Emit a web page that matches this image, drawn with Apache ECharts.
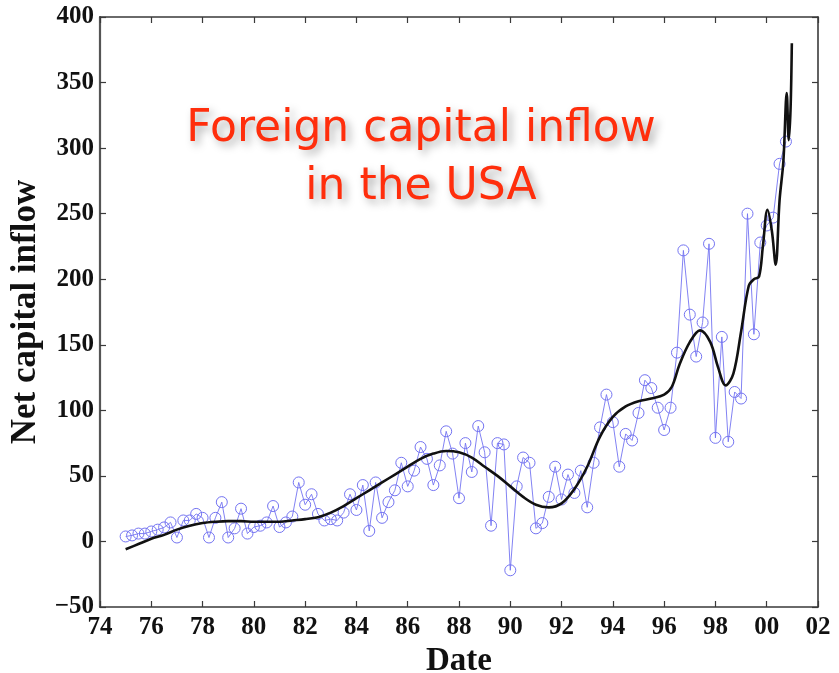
<!DOCTYPE html>
<html><head><meta charset="utf-8">
<script src="https://cdn.jsdelivr.net/npm/echarts@6/dist/echarts.min.js"></script>
<style>html,body{margin:0;padding:0;background:#fff}#c{width:839px;height:673px}</style>
</head><body><div id="c"></div>
<script>
// Quarterly series: first quarter 1975, step 0.25 year
const startYear = 75;
const quarterStep = 0.25;
const inflowValues = [
  3.8,4.6,6,6,7.6,9,10.7,14.5,3,16,
  16,21,18,3,18,30,3,10,25,6,
  11,12,14.5,27,11,14.5,19,45,28,36,
  21,16,17,16,22,36,24,43,8,45,
  18,30,39,60,42,54,72,63,43,58,
  84,67,33,75,53,88,68,12,75,74,
  -22,42,64,60,10,14,34,57,32,51,
  37,54,26,60,87,112,91,57,82,77,
  98,123,117,102,85,102,144,222,173,141,
  167,227,79,156,76,114,109,250,158,228,
  241,247,288,305
];
const trendYears = [75.0,75.5,76,76.5,77,77.5,78,78.5,79,79.5,80,80.5,81,81.5,82,82.5,83,83.5,84,84.5,85,85.5,86,86.5,87,87.5,88,88.5,89,89.5,90,90.5,91,91.5,92,92.5,93,93.5,94,94.5,95,95.5,96,96.3,96.6,97,97.4,97.8,98.1,98.4,98.7,99,99.3,99.5,99.7,99.85,100.03,100.2,100.35,100.5,100.65,100.78,100.86,100.93,100.98];
const trendValues = [-6,-2,2,5,9,12,14,15,15.5,15.5,15,15,15,16,17,18.5,22,27,33,39,45,51,57,63,67,69,68,64,57,50,42,34,28,26,29,40,57,80,95,103,107,109,112,118,135,152,161,152,133,119,128,160,195,200,202,225,253,237,211,260,290,342,306,330,380];
const xMin = 74, xMax = 102, xStep = 2;
const yMin = -50, yMax = 400, yStep = 50;
const titleLines = ['Foreign capital inflow', 'in the USA'];
const xName = 'Date', yName = 'Net capital inflow';

const inflowData = inflowValues.map((v, i) => [startYear + i * quarterStep, v]);
const trendData = trendYears.map((y, i) => [y, trendValues[i]]);

const chart = echarts.init(document.getElementById('c'), null, {renderer: 'canvas'});
const serif = 'Liberation Serif';
const axisLineStyle = {color: '#3a3a3a', width: 1.6};
const tickStyle = {show: true, inside: true, length: 6, lineStyle: {color: '#3a3a3a', width: 1.2}};
const titleStyle = {
  font: '44px "DejaVu Sans"', align: 'center', verticalAlign: 'middle',
  fill: '#ff2e0c',
  textShadowColor: 'rgba(0,0,0,0.35)', textShadowBlur: 8, textShadowOffsetX: 4, textShadowOffsetY: 4
};
chart.setOption({
  animation: false,
  backgroundColor: '#ffffff',
  graphic: titleLines.map((t, i) => ({
    type: 'text', x: 421, y: 130 + i * 58, z: 100,
    style: Object.assign({text: t}, titleStyle)
  })),
  grid: {left: 100, right: 21, top: 17, bottom: 66, containLabel: false, outerBoundsMode: 'none'},
  xAxis: [{
    type: 'value', min: xMin, max: xMax, interval: xStep, position: 'bottom',
    name: xName, nameLocation: 'middle', nameGap: 32,
    nameTextStyle: {fontFamily: serif, fontWeight: 'bold', fontSize: 33, color: '#111'},
    axisLine: {show: true, onZero: false, lineStyle: axisLineStyle},
    axisTick: tickStyle,
    axisLabel: {fontFamily: serif, fontWeight: 'bold', fontSize: 25, color: '#111', margin: 8,
      formatter: v => String(Math.round(v) % 100).padStart(2, '0')},
    splitLine: {show: false}
  }, {
    type: 'value', min: xMin, max: xMax, interval: xStep, position: 'top',
    axisLine: {show: true, onZero: false, lineStyle: axisLineStyle},
    axisTick: tickStyle, axisLabel: {show: false}, splitLine: {show: false}
  }],
  yAxis: [{
    type: 'value', min: yMin, max: yMax, interval: yStep, position: 'left',
    name: yName, nameLocation: 'middle', nameGap: 52, nameRotate: 90,
    nameTextStyle: {fontFamily: serif, fontWeight: 'bold', fontSize: 35, color: '#111'},
    axisLine: {show: true, onZero: false, lineStyle: {color: '#555', width: 2.2}},
    axisTick: tickStyle,
    axisLabel: {fontFamily: serif, fontWeight: 'bold', fontSize: 25, color: '#111', margin: 6,
      formatter: v => v < 0 ? '\u2212' + Math.abs(v) : String(v)},
    splitLine: {show: false}
  }, {
    type: 'value', min: yMin, max: yMax, interval: yStep, position: 'right',
    axisLine: {show: true, onZero: false, lineStyle: axisLineStyle},
    axisTick: tickStyle, axisLabel: {show: false}, splitLine: {show: false}
  }],
  series: [{
    type: 'line', data: inflowData, xAxisIndex: 0, yAxisIndex: 0,
    symbol: 'circle', symbolSize: 11, showSymbol: true,
    lineStyle: {color: '#7474f2', width: 0.9},
    itemStyle: {color: 'rgba(0,0,0,0)', borderColor: '#7474f2', borderWidth: 1},
    z: 2
  }, {
    type: 'line', data: trendData, xAxisIndex: 0, yAxisIndex: 0,
    smooth: 0.35, showSymbol: false, symbol: 'none',
    lineStyle: {color: '#111', width: 2.6},
    z: 3
  }]
});
</script>
</body></html>
